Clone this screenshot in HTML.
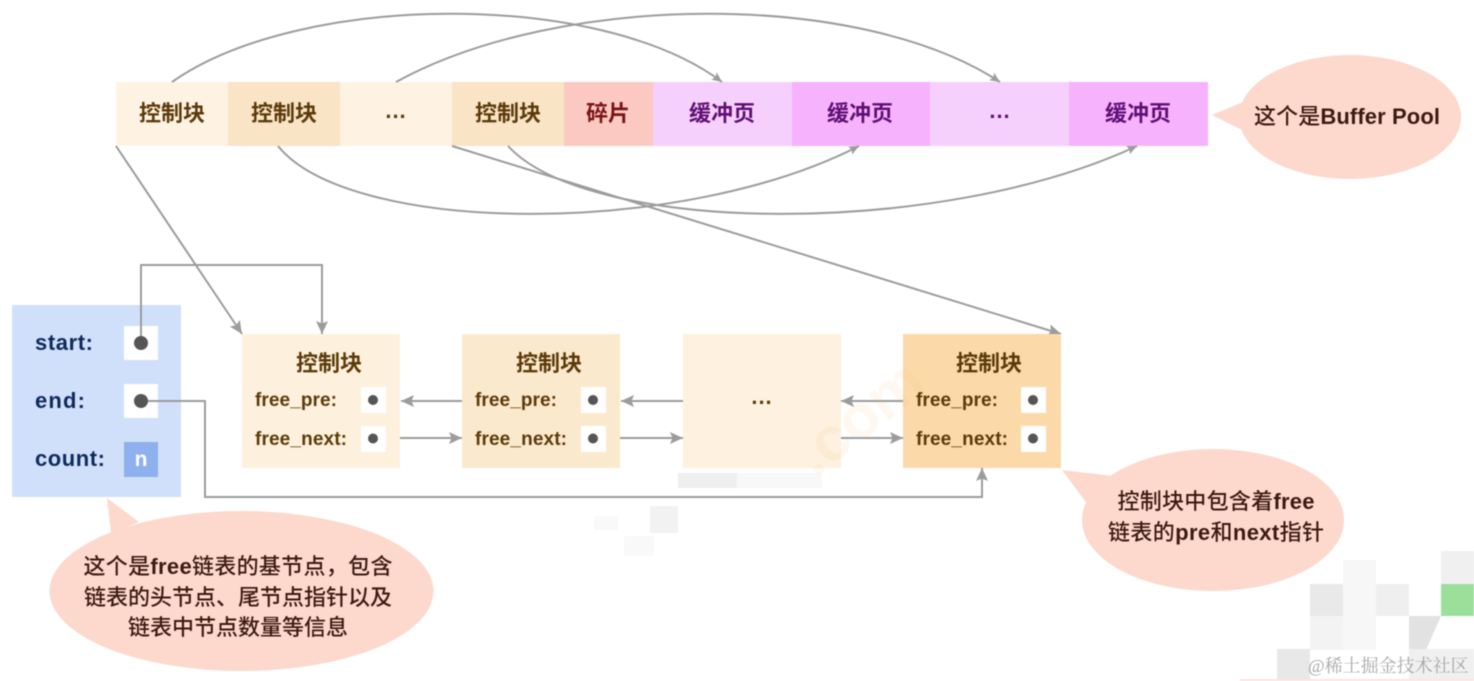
<!DOCTYPE html>
<html lang="zh">
<head>
<meta charset="utf-8">
<style>
html,body{margin:0;padding:0;width:1474px;height:681px;background:#fff;overflow:hidden}
svg{display:block;filter:blur(0.5px)}
text{font-family:"Liberation Sans","Noto Sans CJK SC",sans-serif}
.t{font-size:22px;font-weight:700;text-anchor:middle}
.b{fill:#5c3b0a}.p{fill:#5f0f73}.r{fill:#7a1414}
.f{font-size:19px;font-weight:700;fill:#5c3b0a}
.l{font-size:22px;font-weight:700;fill:#0f2a5c}
.c{font-size:22px;font-weight:500;fill:#3d1a10;text-anchor:middle}
.c tspan{font-weight:700}
.ln{fill:none;stroke:#9c9c9c;stroke-width:2}
</style>
</head>
<body>
<svg width="1474" height="681" viewBox="0 0 1474 681" xmlns="http://www.w3.org/2000/svg">
<defs>
<marker id="a" markerUnits="userSpaceOnUse" markerWidth="14" markerHeight="12" refX="13" refY="6" orient="auto"><path d="M0 0L13 6L0 12L2.5 6Z" fill="#9c9c9c"/></marker>
<marker id="s" markerUnits="userSpaceOnUse" markerWidth="11" markerHeight="10" refX="10" refY="5" orient="auto"><path d="M0 0.5L10 5L0 9.500L2 5Z" fill="#9c9c9c"/></marker>
</defs>

<!-- watermark patches -->
<g>
<rect x="1310" y="584" width="33" height="32" fill="#e9e9e9"/>
<rect x="1310" y="616" width="33" height="34" fill="#f3f3f3"/>
<rect x="1343" y="560" width="33" height="90" fill="#f7f7f7"/>
<rect x="1376" y="584" width="33" height="32" fill="#efefef"/>
<polygon points="1409,616 1441,616 1426,650 1409,650" fill="#e2e2e2"/>
<rect x="1441" y="551" width="33" height="33" fill="#f0f0f0"/>
<rect x="1441" y="584" width="33" height="32" fill="#9bdf9b"/>
<rect x="1277" y="649" width="33" height="32" fill="#e8e8e8"/>
<rect x="1409" y="649" width="65" height="32" fill="#f0f0f0"/>
<rect x="1240" y="679" width="234" height="2" fill="#fde3e3"/>
<rect x="678" y="473" width="59" height="15" fill="#efefef"/>
<rect x="737" y="473" width="85" height="15" fill="#f8f8f8"/>
<rect x="650" y="506" width="28" height="27" fill="#f2f2f2"/>
<rect x="594" y="516" width="24" height="14" fill="#f9f9f9"/>
<rect x="624" y="536" width="30" height="20" fill="#f9f9f9"/>
</g>
<text x="1308" y="672" font-size="18" fill="#a8a8a8" style="font-family:'Liberation Serif','Noto Serif CJK SC',serif">@稀土掘金技术社区 .</text>

<!-- top row -->
<rect x="116" y="82" width="112" height="64" fill="#fef3e3"/>
<rect x="228" y="82" width="112" height="64" fill="#f9e4c6"/>
<rect x="340" y="82" width="112" height="64" fill="#fef3e3"/>
<rect x="452" y="82" width="112" height="64" fill="#f9e4c6"/>
<rect x="564" y="82" width="89" height="64" fill="#fbc9c2"/>
<rect x="653" y="82" width="139" height="64" fill="#f6d0fd"/>
<rect x="792" y="82" width="138" height="64" fill="#f7b2fe"/>
<rect x="930" y="82" width="139" height="64" fill="#f6d0fd"/>
<rect x="1069" y="82" width="139" height="64" fill="#f7b2fe"/>
<text class="t b" x="172" y="121">控制块</text>
<text class="t b" x="284" y="121">控制块</text>
<text class="t b" x="396" y="118" letter-spacing="1">...</text>
<text class="t b" x="508" y="121">控制块</text>
<text class="t r" x="608" y="121">碎片</text>
<text class="t p" x="722" y="121">缓冲页</text>
<text class="t p" x="860" y="121">缓冲页</text>
<text class="t p" x="1000" y="118" letter-spacing="1">...</text>
<text class="t p" x="1138" y="121">缓冲页</text>

<!-- curves -->
<path class="ln" marker-end="url(#s)" d="M172 82C300 -8 600 -10 722 82"/>
<path class="ln" marker-end="url(#s)" d="M396 82C560 -8 860 -10 1000 82"/>
<path class="ln" marker-end="url(#s)" d="M278 146C350 235 680 238 859 146"/>
<path class="ln" marker-end="url(#s)" d="M508 146C590 235 940 238 1137 146"/>
<path class="ln" marker-end="url(#a)" d="M452 146L1061 334"/>
<path class="ln" marker-end="url(#a)" d="M116 146L242 334"/>

<!-- left panel -->
<rect x="12" y="305" width="169" height="192" fill="#d0e0fb"/>
<rect x="124" y="326" width="34" height="34" fill="#fff"/>
<rect x="124" y="384" width="34" height="34" fill="#fff"/>
<rect x="124" y="442" width="34" height="35" fill="#8fb0ee"/>
<text class="l" x="35" y="350" textLength="58">start:</text>
<text class="l" x="35" y="408" textLength="50">end:</text>
<text class="l" x="35" y="466" textLength="70">count:</text>
<text x="141" y="466" font-size="21" font-weight="700" fill="#fff" text-anchor="middle">n</text>

<!-- nodes -->
<rect x="242" y="334" width="158" height="134" fill="#fdf0dc"/>
<rect x="462" y="334" width="158" height="134" fill="#fbe9cd"/>
<rect x="683" y="334" width="158" height="134" fill="#fef1df"/>
<rect x="903" y="334" width="158" height="134" fill="#fbd9a8"/>
<text x="815" y="478" font-size="62" font-weight="700" fill="#f5c98a" opacity="0.13" transform="rotate(-38 815 478)">.com</text>
<text class="t b" x="329" y="371">控制块</text>
<text class="t b" x="549" y="371">控制块</text>
<text class="t b" x="762" y="404" letter-spacing="1">...</text>
<text class="t b" x="989" y="371">控制块</text>

<text class="f" x="255" y="406" textLength="82">free_pre:</text>
<text class="f" x="255" y="445" textLength="92">free_next:</text>
<text class="f" x="475" y="406" textLength="82">free_pre:</text>
<text class="f" x="475" y="445" textLength="92">free_next:</text>
<text class="f" x="916" y="406" textLength="82">free_pre:</text>
<text class="f" x="916" y="445" textLength="92">free_next:</text>

<g fill="#fff">
<rect x="361" y="387" width="25" height="26"/><rect x="361" y="426" width="25" height="26"/>
<rect x="581" y="387" width="25" height="26"/><rect x="581" y="426" width="25" height="26"/>
<rect x="1021" y="387" width="25" height="26"/><rect x="1021" y="426" width="25" height="26"/>
</g>
<g fill="#555">
<circle cx="373" cy="400" r="5"/><circle cx="373" cy="438.500" r="5"/>
<circle cx="593" cy="400" r="5"/><circle cx="593" cy="438.500" r="5"/>
<circle cx="1033" cy="400" r="5"/><circle cx="1033" cy="438.500" r="5"/>
</g>

<!-- connectors -->
<path class="ln" marker-end="url(#a)" d="M462 401H401"/>
<path class="ln" marker-end="url(#a)" d="M400 438H462"/>
<path class="ln" marker-end="url(#a)" d="M683 401H621"/>
<path class="ln" marker-end="url(#a)" d="M620 438H683"/>
<path class="ln" marker-end="url(#a)" d="M903 401H841"/>
<path class="ln" marker-end="url(#a)" d="M841 438H903"/>
<path class="ln" marker-end="url(#a)" d="M141 343V265H322V334"/>
<path class="ln" marker-end="url(#a)" d="M141 401H205V497H982V468"/>
<circle cx="141" cy="343" r="7" fill="#555"/>
<circle cx="141" cy="401" r="7" fill="#555"/>

<!-- bubbles -->
<g fill="#fdd8cd">
<ellipse cx="1350" cy="117" rx="111" ry="62"/>
<polygon points="1212,115 1243,102 1248,133"/>
<ellipse cx="241.500" cy="591" rx="192" ry="80"/>
<polygon points="107,498 139,522 111,533"/>
<ellipse cx="1213" cy="520" rx="131" ry="71"/>
<polygon points="1062,470 1113,476 1088,505"/>
</g>
<text class="c" x="1347" y="124" textLength="186">这个是<tspan>Buffer Pool</tspan></text>
<text class="c" x="238" y="574" textLength="309">这个是<tspan>free</tspan>链表的基节点，包含</text>
<text class="c" x="238" y="605" textLength="308">链表的头节点、尾节点指针以及</text>
<text class="c" x="238" y="635">链表中节点数量等信息</text>
<text class="c" x="1216" y="509" textLength="197">控制块中包含着<tspan>free</tspan></text>
<text class="c" x="1216" y="540" textLength="216">链表的<tspan>pre</tspan>和<tspan>next</tspan>指针</text>
</svg>
</body>
</html>
